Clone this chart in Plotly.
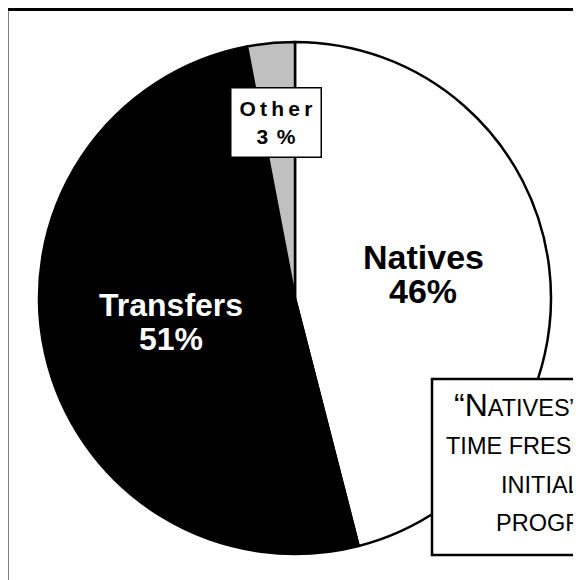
import plotly.graph_objects as go

# ---- data ----
labels = ["Natives", "Transfers", "Other"]
values = [46, 51, 3]
colors = ["#FFFFFF", "#000000", "#C0C0C0"]
note_lines = ["“NATIVES” ARE FIRST-", "TIME FRESHMEN WHO", "INITIALLY ENROLLED IN", "PROGRAM"]

W, H = 581, 580
OFF = 8  # page body margin
def px(x):
    return (x - OFF) / W
def py(y):
    return 1 - (y - OFF) / H

FONT = "Liberation Sans, Arial, sans-serif"

fig = go.Figure()
cx, cy, r = 295, 298, 256
fig.add_trace(go.Pie(
    labels=labels, values=values, sort=False, direction="clockwise", rotation=0,
    marker=dict(colors=colors, line=dict(color="black", width=2.5)),
    textinfo="none", hoverinfo="label+percent", showlegend=False,
    domain=dict(x=[px(cx - r), px(cx + r)], y=[py(cy + r), py(cy - r)]),
))

pct = {l: round(100 * v / sum(values)) for l, v in zip(labels, values)}

ann = []
def add(text, x, y, size, color="black", bold=True, xanchor="center", **kw):
    t = f"<b>{text}</b>" if bold else text
    ann.append(dict(text=t, x=px(x), y=py(y), xref="paper", yref="paper",
                    xanchor=xanchor, yanchor="middle", showarrow=False,
                    font=dict(family=FONT, size=size, color=color), **kw))

# Natives
add(labels[0], 423, 257, 34)
add(f"{pct[labels[0]]}%", 423, 291, 34)
# Transfers
add(labels[1], 171, 305, 32, color="white")
add(f"{pct[labels[1]]}%", 171, 339, 32, color="white")
# Other box
other_txt = "\u2009".join(labels[2])
ann.append(dict(text=f"<b>{other_txt}</b><br><b>{pct[labels[2]]}\u2009\u2009%</b>",
                x=px(276), y=py(122), xref="paper", yref="paper",
                xanchor="center", yanchor="middle", showarrow=False,
                width=89, height=68, bgcolor="white", bordercolor="black",
                borderwidth=1.5, borderpad=0,
                font=dict(family=FONT, size=21, color="black")))

# Note box lines (small caps emulation)
first = note_lines[0]
line1 = ('<span style="font-size:32px">“N</span>' + first[2:])
add(line1, 452, 405, 23.5, bold=False, xanchor="left")
add(note_lines[1], 444, 446, 23.5, bold=False, xanchor="left")
add(note_lines[2], 499, 485, 23.5, bold=False, xanchor="left")
add(note_lines[3], 494, 523, 23.5, bold=False, xanchor="left")

shapes = [
    # outer frame
    dict(type="rect", xref="paper", yref="paper", x0=px(7), x1=px(580.5),
         y0=py(640), y1=py(9.5), line=dict(color="black", width=3),
         fillcolor="rgba(0,0,0,0)", layer="above"),
    # note box
    dict(type="rect", xref="paper", yref="paper", x0=px(432), x1=px(780),
         y0=py(555), y1=py(379), line=dict(color="black", width=2.5),
         fillcolor="white", layer="above"),
]

fig.update_layout(
    width=W, height=H, margin=dict(l=0, r=0, t=0, b=0),
    paper_bgcolor="white", plot_bgcolor="white",
    annotations=ann, shapes=shapes,
)
fig.write_html("out.html")
